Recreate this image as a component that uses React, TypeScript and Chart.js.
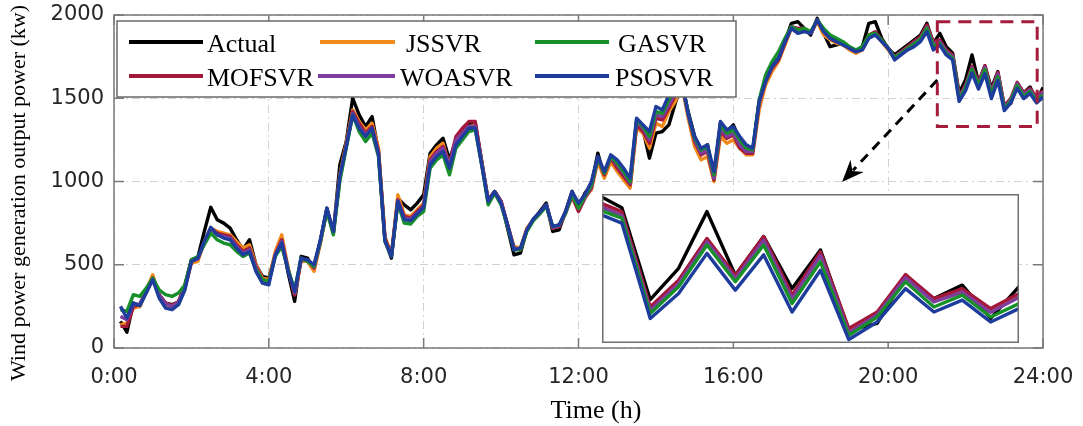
import React, { useEffect, useRef } from 'react';
import { Chart, registerables } from 'chart.js';
Chart.register(...registerables);

// ---------------- data (10-minute samples, 0:10 ... 24:00) ----------------
const actual = [
  160, 95, 270, 250, 340, 430, 320, 270, 260, 275,
  380, 530, 545, 700, 845, 770, 750, 720, 650, 590,
  650, 500, 430, 420, 560, 650, 450, 280, 550, 540,
  470, 650, 840, 690, 1100, 1240, 1500, 1400, 1330, 1390,
  1180, 650, 540, 900, 860, 830, 870, 920, 1170, 1220,
  1260, 1130, 1250, 1300, 1340, 1350, 1120, 890, 940, 880,
  720, 560, 570, 710, 770, 820, 870, 700, 710, 820,
  940, 850, 930, 980, 1170, 1030, 1130, 1090, 1040, 970,
  1350, 1310, 1140, 1290, 1300, 1340, 1470, 1590, 1420, 1270,
  1190, 1220, 1020, 1350, 1300, 1340, 1250, 1200, 1180, 1480,
  1620, 1700, 1740, 1840, 1950, 1960, 1920, 1880, 1980, 1890,
  1810, 1820, 1830, 1800, 1780, 1810, 1950, 1960, 1860, 1800,
  1760, 1790, 1820, 1850, 1880, 1950, 1830, 1890, 1810, 1770,
  1530, 1612, 1760, 1594, 1695, 1559, 1660, 1450, 1468, 1590,
  1533, 1568, 1481, 1564,
];
const jssvr = [
  140, 150, 240, 250, 350, 440, 310, 250, 240, 270,
  360, 510, 520, 640, 720, 700, 690, 680, 640, 600,
  620, 500, 420, 410, 580, 680, 480, 320, 520, 520,
  460, 630, 830, 700, 1040, 1230, 1430, 1360, 1310, 1350,
  1200, 670, 560, 920, 800, 790, 830, 870, 1150, 1200,
  1230, 1090, 1250, 1290, 1330, 1340, 1110, 880, 940, 880,
  740, 610, 600, 720, 770, 810, 860, 720, 730, 820,
  920, 830, 910, 950, 1120, 1020, 1120, 1060, 1010, 960,
  1320, 1290, 1200, 1350, 1330, 1420, 1480, 1580, 1380, 1210,
  1130, 1150, 1000, 1270, 1230, 1250, 1200, 1160, 1160, 1430,
  1580, 1660, 1720, 1820, 1920, 1910, 1910, 1890, 1960, 1880,
  1850, 1830, 1820, 1790, 1770, 1790, 1870, 1890, 1840, 1790,
  1740, 1770, 1800, 1830, 1860, 1930, 1830, 1840, 1780, 1754,
  1505, 1575, 1684, 1588, 1688, 1536, 1648, 1446, 1492, 1590,
  1527, 1553, 1500, 1540,
];
const gasvr = [
  230, 220, 320, 310, 360, 420, 350, 320, 310, 330,
  380, 530, 550, 620, 690, 650, 630, 620, 580, 550,
  570, 470, 410, 400, 550, 610, 470, 350, 540, 520,
  490, 640, 820, 680, 1000, 1200, 1400, 1300, 1240, 1290,
  1150, 640, 550, 870, 750, 745, 790, 820, 1080, 1130,
  1160, 1040, 1200, 1250, 1300, 1310, 1100, 860, 930, 860,
  730, 590, 590, 700, 765, 805, 850, 730, 740, 810,
  920, 840, 910, 980, 1140, 1050, 1150, 1110, 1060, 1000,
  1370, 1330, 1270, 1420, 1410, 1490, 1550, 1610, 1410, 1260,
  1190, 1210, 1040, 1340, 1290, 1310, 1250, 1200, 1190, 1490,
  1640, 1720, 1780, 1860, 1930, 1910, 1920, 1900, 1970, 1920,
  1880, 1860, 1840, 1810, 1790, 1810, 1880, 1890, 1850, 1800,
  1745, 1770, 1800, 1825, 1855, 1920, 1815, 1830, 1770, 1743,
  1494, 1564, 1673, 1577, 1673, 1520, 1629, 1437, 1485, 1577,
  1511, 1542, 1485, 1520,
];
const mofsvr = [
  130, 130, 250, 260, 340, 420, 320, 270, 255, 280,
  370, 520, 540, 630, 720, 690, 680, 670, 620, 580,
  600, 490, 410, 400, 560, 650, 470, 320, 530, 530,
  480, 640, 830, 690, 1020, 1220, 1420, 1350, 1290, 1330,
  1180, 660, 560, 890, 790, 780, 820, 860, 1130, 1180,
  1210, 1110, 1270, 1320, 1360, 1360, 1120, 880, 940, 880,
  740, 600, 590, 710, 770, 810, 860, 720, 730, 810,
  910, 820, 900, 960, 1140, 1040, 1140, 1080, 1030, 980,
  1340, 1300, 1230, 1380, 1370, 1440, 1520, 1600, 1400, 1240,
  1160, 1180, 1010, 1300, 1260, 1280, 1200, 1170, 1170, 1470,
  1600, 1680, 1730, 1830, 1930, 1920, 1920, 1890, 1970, 1900,
  1860, 1840, 1830, 1800, 1780, 1800, 1880, 1900, 1850, 1800,
  1750, 1780, 1810, 1840, 1870, 1940, 1840, 1850, 1790, 1760,
  1511, 1581, 1690, 1594, 1695, 1542, 1655, 1455, 1498, 1596,
  1533, 1559, 1507, 1546,
];
const woasvr = [
  190, 170, 260, 265, 340, 420, 320, 265, 250, 275,
  365, 520, 535, 630, 715, 680, 670, 660, 610, 570,
  590, 480, 400, 395, 560, 640, 470, 330, 530, 530,
  485, 640, 830, 690, 1020, 1210, 1410, 1330, 1280, 1320,
  1170, 650, 555, 885, 780, 775, 810, 850, 1120, 1170,
  1200, 1100, 1250, 1290, 1330, 1330, 1110, 880, 940, 880,
  740, 600, 595, 710, 770, 810, 860, 725, 735, 820,
  930, 840, 910, 970, 1140, 1050, 1150, 1100, 1050, 990,
  1360, 1320, 1250, 1400, 1390, 1460, 1530, 1600, 1400, 1250,
  1170, 1190, 1020, 1320, 1270, 1290, 1220, 1180, 1180, 1470,
  1610, 1690, 1740, 1840, 1930, 1910, 1910, 1890, 1970, 1900,
  1860, 1840, 1825, 1800, 1780, 1795, 1870, 1890, 1845, 1800,
  1745, 1775, 1800, 1830, 1860, 1925, 1825, 1840, 1780, 1750,
  1502, 1572, 1681, 1585, 1685, 1532, 1645, 1444, 1490, 1587,
  1524, 1550, 1497, 1536,
];
const psosvr = [
  250, 180, 270, 255, 330, 410, 300, 240, 230, 260,
  350, 520, 540, 640, 725, 680, 660, 650, 600, 560,
  580, 460, 390, 380, 555, 630, 460, 340, 540, 530,
  500, 650, 840, 700, 1030, 1210, 1400, 1320, 1270, 1320,
  1160, 640, 550, 880, 770, 765, 805, 845, 1100, 1150,
  1180, 1080, 1220, 1270, 1320, 1320, 1100, 880, 940, 870,
  740, 590, 600, 710, 775, 815, 860, 730, 740, 820,
  940, 870, 920, 1000, 1150, 1060, 1160, 1130, 1080, 1020,
  1380, 1340, 1300, 1450, 1430, 1520, 1570, 1610, 1410, 1270,
  1200, 1220, 1060, 1360, 1310, 1330, 1270, 1220, 1200, 1480,
  1600, 1690, 1740, 1840, 1920, 1890, 1900, 1890, 1970, 1900,
  1860, 1840, 1820, 1800, 1780, 1790, 1860, 1880, 1840, 1800,
  1730, 1760, 1790, 1810, 1840, 1900, 1790, 1820, 1760, 1730,
  1481, 1546, 1651, 1555, 1647, 1498, 1607, 1426, 1472, 1559,
  1498, 1529, 1472, 1507,
];

const SAMPLE_MINUTES = 10;
const timesH = actual.map((_, i) => ((i + 1) * SAMPLE_MINUTES) / 60);

const seriesNames = ['Actual', 'JSSVR', 'GASVR', 'MOFSVR', 'WOASVR', 'PSOSVR'];
const seriesValues = [actual, jssvr, gasvr, mofsvr, woasvr, psosvr];
const seriesColors = ['#000000', '#F08A1C', '#17902A', '#A3183A', '#7E3D9E', '#1E3C9C'];
const seriesOrder = [5, 4, 1, 3, 2, 0]; // lower = drawn on top

const xTickHours = [0, 4, 8, 12, 16, 20, 24];
const xTickLabels = ['0:00', '4:00', '8:00', '12:00', '16:00', '20:00', '24:00'];
const yTickValues = [0, 500, 1000, 1500, 2000];
const yTickLabels = ['0', '500', '1000', '1500', '2000'];
const xTitle = 'Time (h)';
const yTitle = 'Wind power generation output power (kw)';

// zoom window (hours / kW)
const zoomBox = { x0: 21.27, x1: 23.85, y0: 1330, y1: 1960 };
const arrowFrom = { x: 21.27, y: 1610 };
const arrowTo = { x: 18.81, y: 997 };
const insetRange = { xMin: 21.55, xMax: 24, yMin: 1417, yMax: 1806 };

// ---------------- styling ----------------
const FRAME = '#7a7a7a';
const GRID = '#d2d2d2';
const TICK_COLOR = '#262626';
const SANS = '"DejaVu Sans", sans-serif';
const SERIF = '"Liberation Serif", "Times New Roman", serif';
const LINE_W = 3.4;

const legendLayout = [
  { lx0: 129, lx1: 203, ly: 42, tx: 207, ty: 51.5 },
  { lx0: 320, lx1: 395, ly: 42, tx: 406, ty: 51.5 },
  { lx0: 535, lx1: 609, ly: 42, tx: 618, ty: 51.5 },
  { lx0: 129, lx1: 203, ly: 76, tx: 207, ty: 85.5 },
  { lx0: 318, lx1: 395, ly: 76, tx: 400, ty: 85.5 },
  { lx0: 535, lx1: 609, ly: 76, tx: 615, ty: 85.5 },
];

function makeDatasets() {
  return seriesNames.map((name, k) => ({
    label: name,
    data: seriesValues[k],
    borderColor: seriesColors[k],
    backgroundColor: seriesColors[k],
    borderWidth: LINE_W,
    pointRadius: 0,
    tension: 0,
    fill: false,
    order: seriesOrder[k],
    borderJoinStyle: 'round' as const,
  }));
}

const decorPlugin = {
  id: 'decor',
  beforeDraw(chart: any) {
    const { ctx, width, height } = chart;
    ctx.save();
    ctx.fillStyle = '#ffffff';
    ctx.fillRect(0, 0, width, height);
    ctx.restore();
  },
  beforeDatasetsDraw(chart: any) {
    const { ctx, chartArea: a, scales } = chart;
    const T = 10;
    ctx.save();
    ctx.strokeStyle = FRAME;
    ctx.lineWidth = 1.5;
    ctx.beginPath();
    for (const v of yTickValues) {
      const y = scales.y.getPixelForValue(v);
      ctx.moveTo(a.left, y); ctx.lineTo(a.left + T, y);
      ctx.moveTo(a.right, y); ctx.lineTo(a.right - T, y);
    }
    for (const v of xTickHours) {
      const x = scales.x.getPixelForValue(v);
      ctx.moveTo(x, a.bottom); ctx.lineTo(x, a.bottom - T);
      ctx.moveTo(x, a.top); ctx.lineTo(x, a.top + T);
    }
    ctx.stroke();
    ctx.strokeRect(a.left, a.top, a.right - a.left, a.bottom - a.top);
    ctx.restore();
  },
  afterDatasetsDraw(chart: any) {
    const { ctx, scales } = chart;
    ctx.save();
    // legend
    ctx.fillStyle = '#ffffff';
    ctx.fillRect(117, 21, 619, 76);
    ctx.strokeStyle = '#6a6a6a';
    ctx.lineWidth = 1.5;
    ctx.strokeRect(117, 21, 619, 76);
    ctx.font = `26px ${SERIF}`;
    ctx.textBaseline = 'alphabetic';
    ctx.textAlign = 'left';
    seriesNames.forEach((name, k) => {
      const L = legendLayout[k];
      ctx.strokeStyle = seriesColors[k];
      ctx.lineWidth = 4;
      ctx.beginPath();
      ctx.moveTo(L.lx0, L.ly);
      ctx.lineTo(L.lx1, L.ly);
      ctx.stroke();
      ctx.fillStyle = '#000000';
      ctx.fillText(name, L.tx, L.ty);
    });
    // zoom rectangle
    const rx0 = scales.x.getPixelForValue(zoomBox.x0);
    const rx1 = scales.x.getPixelForValue(zoomBox.x1);
    const ry0 = scales.y.getPixelForValue(zoomBox.y1);
    const ry1 = scales.y.getPixelForValue(zoomBox.y0);
    ctx.strokeStyle = '#A51C3C';
    ctx.lineWidth = 3;
    ctx.setLineDash([13, 8]);
    ctx.strokeRect(rx0, ry0, rx1 - rx0, ry1 - ry0);
    // arrow
    const ax0 = scales.x.getPixelForValue(arrowFrom.x);
    const ay0 = scales.y.getPixelForValue(arrowFrom.y);
    const ax1 = scales.x.getPixelForValue(arrowTo.x);
    const ay1 = scales.y.getPixelForValue(arrowTo.y);
    const dx = ax1 - ax0, dy = ay1 - ay0;
    const len = Math.hypot(dx, dy);
    const ux = dx / len, uy = dy / len;
    const px = -uy, py = ux;
    const headLen = 22, headW = 9;
    const bx = ax1 - ux * headLen, by = ay1 - uy * headLen;
    ctx.strokeStyle = '#000000';
    ctx.lineWidth = 3;
    ctx.setLineDash([10, 7]);
    ctx.beginPath();
    ctx.moveTo(ax0, ay0);
    ctx.lineTo(bx + ux * 6, by + uy * 6);
    ctx.stroke();
    ctx.setLineDash([]);
    ctx.fillStyle = '#000000';
    ctx.beginPath();
    ctx.moveTo(ax1, ay1);
    ctx.lineTo(bx + px * headW, by + py * headW);
    ctx.lineTo(bx + ux * 7, by + uy * 7);
    ctx.lineTo(bx - px * headW, by - py * headW);
    ctx.closePath();
    ctx.fill();
    ctx.restore();
  },
  afterDraw(chart: any) {
    const { ctx } = chart;
    ctx.save();
    ctx.fillStyle = '#000000';
    ctx.font = `22px ${SERIF}`;
    ctx.textAlign = 'center';
    ctx.textBaseline = 'middle';
    ctx.translate(19, 193);
    ctx.rotate(-Math.PI / 2);
    ctx.fillText(yTitle, 0, 0);
    ctx.restore();
    ctx.save();
    ctx.fillStyle = '#000000';
    ctx.font = `26px ${SERIF}`;
    ctx.textAlign = 'center';
    ctx.textBaseline = 'alphabetic';
    ctx.fillText(xTitle, 596, 418);
    ctx.restore();
  },
};

const insetPlugin = {
  id: 'insetDecor',
  beforeDraw(chart: any) {
    const { ctx, width, height } = chart;
    ctx.save();
    ctx.fillStyle = '#ffffff';
    ctx.fillRect(0, 0, width, height);
    ctx.restore();
  },
  afterDraw(chart: any) {
    const { ctx, width, height } = chart;
    ctx.save();
    ctx.strokeStyle = '#6f6f6f';
    ctx.lineWidth = 1.5;
    ctx.strokeRect(0.75, 0.75, width - 1.5, height - 1.5);
    ctx.restore();
  },
};

export default function App() {
  const mainRef = useRef<HTMLCanvasElement>(null);
  const insetRef = useRef<HTMLCanvasElement>(null);

  useEffect(() => {
    const gridOpts = { color: GRID, drawTicks: false, lineWidth: 1 };
    const borderOpts = { display: false, dash: [8, 4, 2, 4] };
    const main = new Chart(mainRef.current as HTMLCanvasElement, {
      type: 'line',
      data: { labels: timesH, datasets: makeDatasets() as any },
      options: {
        responsive: false,
        animation: false,
        events: [],
        layout: { padding: { left: 0, right: 40, top: 15, bottom: 0 } },
        plugins: { legend: { display: false }, tooltip: { enabled: false } },
        scales: {
          x: {
            type: 'linear',
            min: 0,
            max: 24,
            afterFit: (s: any) => { s.height = 78; s.paddingLeft = 0; s.paddingRight = 0; },
            afterBuildTicks: (s: any) => { s.ticks = xTickHours.map((v) => ({ value: v })); },
            ticks: {
              autoSkip: false,
              maxRotation: 0,
              padding: 17,
              color: TICK_COLOR,
              font: { family: SANS, size: 21 },
              callback: (v: any) => xTickLabels[xTickHours.indexOf(Number(v))] ?? '',
            },
            grid: gridOpts,
            border: borderOpts,
          },
          y: {
            type: 'linear',
            min: 0,
            max: 2000,
            afterFit: (s: any) => { s.width = 114; s.paddingTop = 0; s.paddingBottom = 0; },
            afterBuildTicks: (s: any) => { s.ticks = yTickValues.map((v) => ({ value: v })); },
            ticks: {
              padding: 10,
              color: TICK_COLOR,
              font: { family: SANS, size: 21 },
              callback: (v: any) => yTickLabels[yTickValues.indexOf(Number(v))] ?? '',
            },
            grid: gridOpts,
            border: borderOpts,
          },
        },
      } as any,
      plugins: [decorPlugin],
    });

    const inset = new Chart(insetRef.current as HTMLCanvasElement, {
      type: 'line',
      data: { labels: timesH, datasets: makeDatasets() as any },
      options: {
        responsive: false,
        animation: false,
        events: [],
        layout: { padding: 0 },
        plugins: { legend: { display: false }, tooltip: { enabled: false } },
        scales: {
          x: { type: 'linear', display: false, min: insetRange.xMin, max: insetRange.xMax },
          y: { type: 'linear', display: false, min: insetRange.yMin, max: insetRange.yMax },
        },
      } as any,
      plugins: [insetPlugin],
    });

    return () => {
      main.destroy();
      inset.destroy();
    };
  }, []);

  return (
    <div style={{ position: 'absolute', left: 0, top: 0, width: 1083, height: 426, background: '#ffffff' }}>
      <canvas ref={mainRef} width={1083} height={426} style={{ position: 'absolute', left: 0, top: 0 }} />
      <canvas ref={insetRef} width={417} height={149} style={{ position: 'absolute', left: 602, top: 194 }} />
    </div>
  );
}
